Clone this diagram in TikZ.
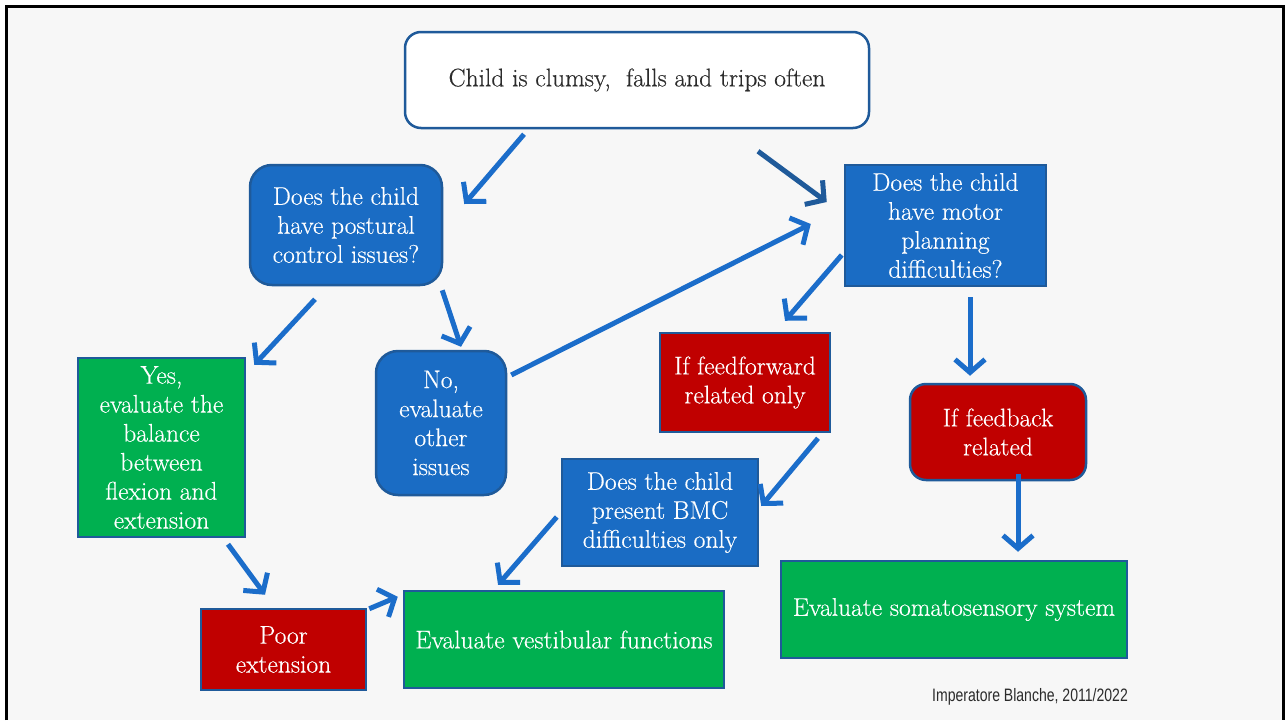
\documentclass[tikz,border=0pt]{standalone}
\usepackage{fontspec}
\newfontfamily\creditfont{Liberation Sans}
\newfontfamily\boxfont{Latin Modern Roman}[FakeBold=0.4]
\usetikzlibrary{arrows.meta,calc}

\definecolor{boxblue}{HTML}{1A6CC4}
\definecolor{edgeblue}{HTML}{1F5A9A}
\definecolor{boxgreen}{HTML}{00B050}
\definecolor{boxred}{HTML}{C00000}
\definecolor{arrowblue}{HTML}{1B6DCA}
\definecolor{arrowdark}{HTML}{1F5A9A}
\definecolor{slidebg}{HTML}{F7F7F7}
\definecolor{inkgray}{HTML}{2B2B2B}

\tikzset{
  box/.style={draw=edgeblue, line width=2.5pt, text=white, align=center,
    inner sep=0pt, font=\boxfont\fontsize{25.5}{29}\selectfont},
  question/.style={box, fill=boxblue},
  roundq/.style={question, rounded corners=22pt},
  action/.style={box, fill=boxgreen},
  finding/.style={box, fill=boxred},
  start/.style={box, fill=white, text=inkgray, rounded corners=16pt},
  arr/.style={draw=arrowblue, line width=5pt,
    -{Straight Barb[length=13pt, width=30pt, line width=5pt]}},
  arrdark/.style={arr, draw=arrowdark},
}

\begin{document}
\begin{tikzpicture}[x=1pt, y=-1pt]
  % slide canvas and frame
  \useasboundingbox (0,0) rectangle (1287,720);
  \fill[slidebg] (6.5,6.5) rectangle (1283.5,720);
  \draw[line width=3pt] (6.5,720) -- (6.5,6.5) -- (1283.5,6.5) -- (1283.5,720);

  % boxes
  \node[start, minimum width=464, minimum height=96] (top) at (637,80)
    {Child is clumsy,\ \ falls and trips often};
  \node[roundq, minimum width=192, minimum height=120] (post) at (346,225)
    {Does the child\\have postural\\control issues?};
  \node[question, minimum width=201, minimum height=121] (motor) at (945.5,225.5)
    {Does the child\\have motor\\planning\\difficulties?};
  \node[action, minimum width=167, minimum height=179] (yes) at (161.5,447.5)
    {Yes,\\evaluate the\\balance\\between\\flexion and\\extension};
  \node[roundq, minimum width=130, minimum height=144] (no) at (441,423)
    {No,\\evaluate\\other\\issues};
  \node[finding, minimum width=170, minimum height=99] (ff) at (745,382.5)
    {If feedforward\\related only};
  \node[finding, rounded corners=16pt, minimum width=176, minimum height=96] (fb) at (998,432)
    {If feedback\\related};
  \node[question, minimum width=196, minimum height=107] (bmc) at (660,512.5)
    {Does the child\\present BMC\\difficulties only};
  \node[finding, minimum width=165, minimum height=81] (poor) at (283.5,649.5)
    {Poor\\extension};
  \node[action, minimum width=320, minimum height=97] (vest) at (564,639.5)
    {Evaluate vestibular functions};
  \node[action, minimum width=346, minimum height=97] (soma) at (954,609.5)
    {Evaluate somatosensory system};

  \node[text=inkgray, font=\creditfont\fontsize{18}{20}\selectfont] (credit) at (1030,697)
    {\scalebox{0.78}[1]{Imperatore Blanche, 2011/2022}};

  % connectors
  \draw[arr] ($(top.south)+(-113,5)$) -- ($(post.east)+(21,-21)$);
  \draw[arrdark] ($(top.south)+(121,22)$) -- ($(motor.west)+(-17,-23.5)$);
  \draw[arr] ($(no.east)+(4,-48)$) -- ($(motor.west)+(-33,-1.5)$);
  \draw[arr] ($(post.south)+(-31,13)$) -- ($(yes.north east)+(8,8)$);
  \draw[arr] ($(post.south east)+(-1,4)$) -- ($(no.north)+(20,-3)$);
  \draw[arr] ($(motor.west)+(-2,29.5)$) -- ($(ff.north)+(40,-11)$);
  \draw[arr] ($(motor.south)+(24.5,10)$) -- ($(fb.north)+(-28,-7)$);
  \draw[arr] ($(ff.south)+(73,5)$) -- ($(bmc.east)+(2,-6.5)$);
  \draw[arr] ($(bmc.west)+(-4,4.5)$) -- ($(vest.north)+(-66,-5)$);
  \draw[arr] ($(yes.south)+(66.5,6)$) -- ($(poor.north)+(-18.5,-13)$);
  \draw[arr] ($(poor.north east)+(2,1)$) -- ($(vest.north west)+(-5,7)$);
  \draw[arr] ($(fb.south)+(20,-7)$) -- ($(soma.north)+(64,-8)$);
\end{tikzpicture}
\end{document}
